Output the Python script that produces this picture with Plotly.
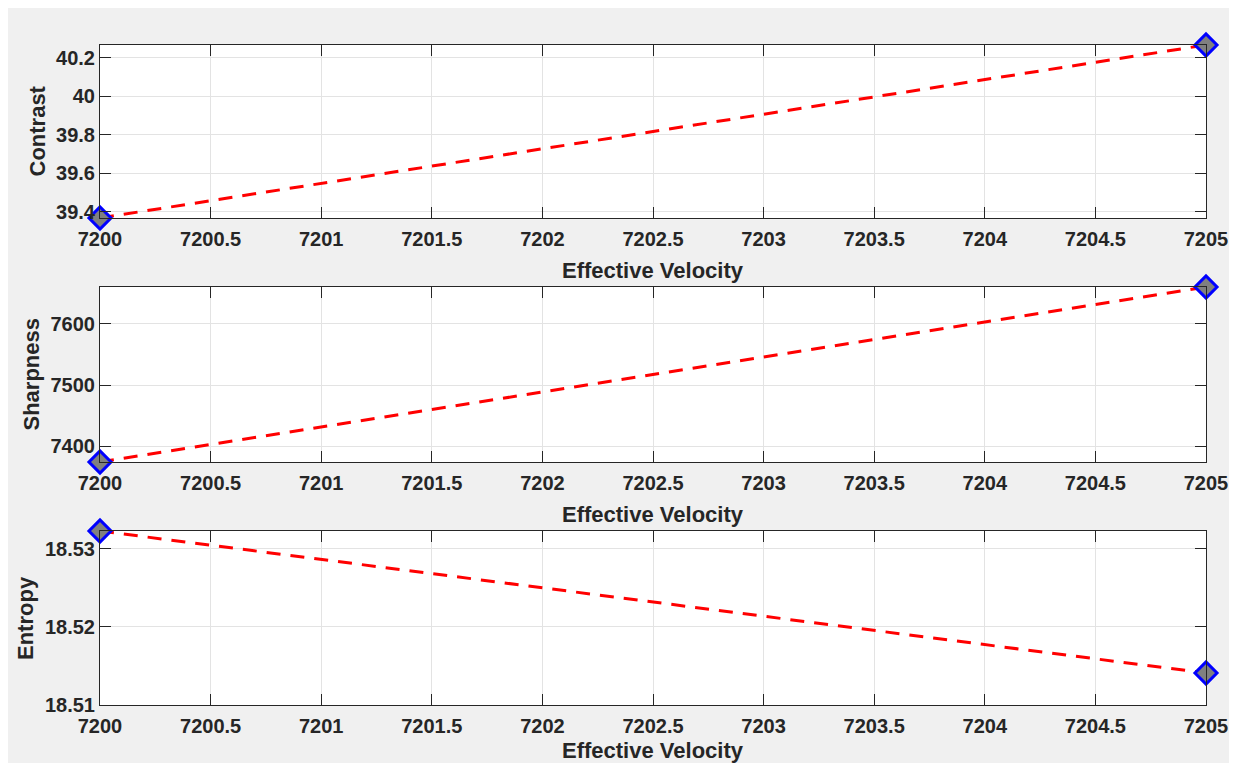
import plotly.graph_objects as go

velocity = [7200, 7205]
contrast = [39.3677, 40.2655]
sharpness = [7374.0, 7660.5]
entropy = [18.5323, 18.5141]

x_ticks = [7200, 7200.5, 7201, 7201.5, 7202, 7202.5, 7203, 7203.5, 7204, 7204.5, 7205]
x_ticktext = ["7200", "7200.5", "7201", "7201.5", "7202", "7202.5", "7203", "7203.5", "7204", "7204.5", "7205"]
contrast_ticks = [39.4, 39.6, 39.8, 40.0, 40.2]
contrast_ticktext = ["39.4", "39.6", "39.8", "40", "40.2"]
sharpness_ticks = [7400, 7500, 7600]
sharpness_ticktext = ["7400", "7500", "7600"]
entropy_ticks = [18.51, 18.52, 18.53]
entropy_ticktext = ["18.51", "18.52", "18.53"]

y_ranges = [[39.3677, 40.2655], [7374.0, 7660.5], [18.51, 18.5323]]
y_labels = ["Contrast", "Sharpness", "Entropy"]
x_label = "Effective Velocity"

OFF = 8  # default page (body) margin around the figure
W, H = 1237 - 2 * OFF, 771 - 2 * OFF
ML, MT = 100 - OFF, 45 - OFF
MR = W - (1206 - OFF)
MB = H - (705 - OFF)
plot_h = H - MT - MB
plot_w = W - ML - MR


def px_to_paper_x(px):
    return (px - OFF - ML) / plot_w


def px_to_paper_y(py):
    return (H - MB - (py - OFF)) / plot_h


# subplot pixel extents in page coords (top, bottom)
px_extents = [(45, 218), (287, 462), (531, 705)]
domains = [[px_to_paper_y(b), px_to_paper_y(t)] for t, b in px_extents]
x_title_y = [270, 514, 750]
y_title_x = [37, 31, 25]

TXT = "#262626"
FONT = "Arial, Liberation Sans, sans-serif"

fig = go.Figure()
series = [contrast, sharpness, entropy]
yticks = [(contrast_ticks, contrast_ticktext), (sharpness_ticks, sharpness_ticktext), (entropy_ticks, entropy_ticktext)]

layout = dict(
    width=W, height=H,
    margin=dict(l=ML, r=MR, t=MT, b=MB, pad=0, autoexpand=False),
    paper_bgcolor="#f0f0f0",
    plot_bgcolor="white",
    showlegend=False,
    font=dict(family=FONT, color=TXT),
)
annotations = []
title_font = dict(family=FONT, size=22, color=TXT, weight="bold")

for i in range(3):
    n = "" if i == 0 else str(i + 1)
    fig.add_trace(go.Scatter(
        x=velocity, y=series[i], mode="lines+markers",
        xaxis="x" + n, yaxis="y" + n,
        line=dict(color="#ff0000", width=3, dash="14px,10px"),
        marker=dict(symbol="diamond", size=17, color="#808080",
                    line=dict(color="#0000ff", width=3)),
        cliponaxis=False,
    ))
    axis_common = dict(
        showline=True, linecolor=TXT, linewidth=1, mirror="ticks",
        ticks="inside", ticklen=11, tickcolor=TXT, tickwidth=1,
        showgrid=True, gridcolor="#e3e3e3", gridwidth=1,
        zeroline=False, automargin=False,
        ticklabeloverflow="allow",
        tickfont=dict(family=FONT, size=20, color=TXT, weight="bold"),
    )
    layout["xaxis" + n] = dict(
        axis_common,
        domain=[0, 1], anchor="y" + n,
        range=[7200, 7205], tickvals=x_ticks, ticktext=x_ticktext,
        ticklabelstandoff=3,
    )
    layout["yaxis" + n] = dict(
        axis_common,
        domain=domains[i], anchor="x" + n,
        range=y_ranges[i], tickvals=yticks[i][0], ticktext=yticks[i][1],
    )
    annotations.append(dict(
        text=x_label, xref="paper", yref="paper", x=0.5, y=px_to_paper_y(x_title_y[i]),
        xanchor="center", yanchor="middle", showarrow=False, font=title_font,
    ))
    annotations.append(dict(
        text=y_labels[i], xref="paper", yref="paper", x=px_to_paper_x(y_title_x[i]),
        y=sum(domains[i]) / 2, xanchor="center", yanchor="middle", textangle=-90,
        showarrow=False, font=title_font,
    ))

layout["annotations"] = annotations
fig.update_layout(**layout)
fig.write_html("out.html", config={"displayModeBar": False})
